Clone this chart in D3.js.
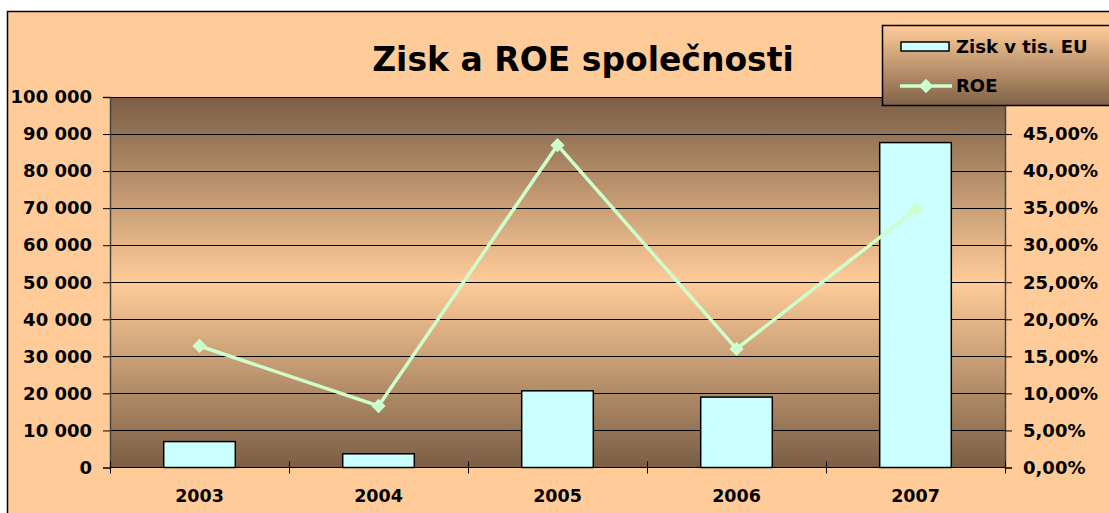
<!DOCTYPE html>
<html lang="cs">
<head>
<meta charset="UTF-8">
<title>Zisk a ROE společnosti</title>
<script src="https://d3js.org/d3.v7.min.js"></script>
<style>
  body { margin: 0; background: #ffffff; }
  text { font-family: "DejaVu Sans", Arial, sans-serif; font-weight: bold; fill: #000; }
</style>
</head>
<body>
<svg id="chart" width="1109" height="513"></svg>
<script>
// data
const years = ["2003", "2004", "2005", "2006", "2007"];
const zisk = [7000, 3700, 20700, 19000, 87700];
const roe = [0.164, 0.083, 0.435, 0.160, 0.348];
const leftTicks = [0, 10000, 20000, 30000, 40000, 50000, 60000, 70000, 80000, 90000, 100000];
const rightTicks = [0, 0.05, 0.10, 0.15, 0.20, 0.25, 0.30, 0.35, 0.40, 0.45, 0.50];

const svg = d3.select("#chart");
const margin = { left: 110, right: 1005, top: 97, bottom: 467.5 };
const fontFam = "DejaVu Sans, Arial, sans-serif";

// chart background + border (right/bottom edges run off the picture)
svg.append("rect")
  .attr("x", 7.5).attr("y", 11.5)
  .attr("width", 1120).attr("height", 520)
  .attr("fill", "#FFCC99")
  .attr("stroke", "#000").attr("stroke-width", 1.5);

const defs = svg.append("defs");
const grad = defs.append("linearGradient")
  .attr("id", "plotbg").attr("x1", 0).attr("y1", 0).attr("x2", 0).attr("y2", 1);
grad.append("stop").attr("offset", "0%").attr("stop-color", "#7A5E45");
grad.append("stop").attr("offset", "50%").attr("stop-color", "#FFCC99");
grad.append("stop").attr("offset", "100%").attr("stop-color", "#7A5E45");

const legGrad = defs.append("linearGradient")
  .attr("id", "legbg").attr("x1", 0).attr("y1", 0).attr("x2", 0).attr("y2", 1);
legGrad.append("stop").attr("offset", "0%").attr("stop-color", "#FFCC99");
legGrad.append("stop").attr("offset", "100%").attr("stop-color", "#7F6247");

const x = d3.scaleBand().domain(years)
  .range([margin.left, margin.right]).paddingInner(0.6).paddingOuter(0.3);
const xEdge = d3.scaleLinear().domain([0, years.length]).range([margin.left, margin.right]);
const y = d3.scaleLinear().domain([0, 100000]).range([margin.bottom, margin.top]);
const y2 = d3.scaleLinear().domain([0, 0.5]).range([margin.bottom, margin.top]);

// plot area
svg.append("rect")
  .attr("x", margin.left).attr("y", margin.top)
  .attr("width", margin.right - margin.left)
  .attr("height", margin.bottom - margin.top)
  .attr("fill", "url(#plotbg)");

// gridlines
svg.append("g").selectAll("line")
  .data(leftTicks.slice(1))
  .enter().append("line")
  .attr("x1", margin.left).attr("x2", margin.right)
  .attr("y1", d => Math.round(y(d)) + 0.5).attr("y2", d => Math.round(y(d)) + 0.5)
  .attr("stroke", "#000").attr("stroke-width", 1);

// left axis
const fmtLeft = d => d3.format(",")(d).replace(/,/g, " ");
const leftAxis = svg.append("g")
  .attr("transform", `translate(${margin.left},0)`)
  .call(d3.axisLeft(y).tickValues(leftTicks).tickFormat(fmtLeft).tickSize(7).tickPadding(11));

// right axis
const fmtRight = d => d3.format(".2f")(d * 100).replace(".", ",") + "%";
const rightAxis = svg.append("g")
  .attr("transform", `translate(${margin.right},0)`)
  .call(d3.axisRight(y2).tickValues(rightTicks).tickFormat(fmtRight).tickSize(7).tickPadding(11));

[leftAxis, rightAxis].forEach(a => {
  a.select(".domain").attr("stroke", "#444").attr("stroke-width", 1.5);
  a.selectAll(".tick line").attr("stroke", "#000");
  a.selectAll("text").style("font-size", "18px").style("font-family", fontFam).style("font-weight", "bold");
});

// bars
svg.append("g").selectAll("rect")
  .data(years)
  .enter().append("rect")
  .attr("x", d => x(d))
  .attr("y", (d, i) => y(zisk[i]))
  .attr("width", x.bandwidth())
  .attr("height", (d, i) => y(0) - y(zisk[i]))
  .attr("fill", "#CCFFFF")
  .attr("stroke", "#000").attr("stroke-width", 1.5);

// x axis
svg.append("line")
  .attr("x1", margin.left).attr("x2", margin.right)
  .attr("y1", margin.bottom).attr("y2", margin.bottom)
  .attr("stroke", "#000").attr("stroke-width", 1);
svg.append("g").selectAll("line")
  .data(d3.range(years.length + 1))
  .enter().append("line")
  .attr("x1", d => Math.round(xEdge(d)) + 0.5).attr("x2", d => Math.round(xEdge(d)) + 0.5)
  .attr("y1", margin.bottom - 6).attr("y2", margin.bottom + 6)
  .attr("stroke", "#000");
svg.append("g").selectAll("text")
  .data(years)
  .enter().append("text")
  .attr("x", d => x(d) + x.bandwidth() / 2)
  .attr("y", 502)
  .attr("text-anchor", "middle")
  .style("font-size", "17.5px")
  .text(d => d);

// ROE line
const line = d3.line()
  .x((d, i) => x(years[i]) + x.bandwidth() / 2)
  .y(d => y2(d));
svg.append("path")
  .datum(roe)
  .attr("d", line)
  .attr("fill", "none")
  .attr("stroke", "#CCFFCC")
  .attr("stroke-width", 3.5);
const diamond = d3.symbol().type(d3.symbolDiamond2).size(130);
svg.append("g").selectAll("path")
  .data(roe)
  .enter().append("path")
  .attr("d", diamond)
  .attr("transform", (d, i) => `translate(${x(years[i]) + x.bandwidth() / 2},${y2(d)})`)
  .attr("fill", "#CCFFCC");

// title
svg.append("text")
  .attr("x", 583).attr("y", 71)
  .attr("text-anchor", "middle")
  .style("font-size", "33px")
  .text("Zisk a ROE společnosti");

// legend
const leg = svg.append("g");
leg.append("rect")
  .attr("x", 882.5).attr("y", 25.5)
  .attr("width", 240).attr("height", 80)
  .attr("fill", "url(#legbg)")
  .attr("stroke", "#000").attr("stroke-width", 1.5);
leg.append("rect")
  .attr("x", 901).attr("y", 42)
  .attr("width", 48).attr("height", 9)
  .attr("fill", "#CCFFFF")
  .attr("stroke", "#000").attr("stroke-width", 1.5);
leg.append("text")
  .attr("x", 956).attr("y", 53)
  .style("font-size", "18px")
  .text("Zisk v tis. EU");
leg.append("line")
  .attr("x1", 900).attr("x2", 952)
  .attr("y1", 86).attr("y2", 86)
  .attr("stroke", "#CCFFCC").attr("stroke-width", 3.5);
leg.append("path")
  .attr("d", diamond)
  .attr("transform", "translate(926,86)")
  .attr("fill", "#CCFFCC");
leg.append("text")
  .attr("x", 956).attr("y", 92)
  .style("font-size", "18px")
  .text("ROE");
</script>
</body>
</html>
